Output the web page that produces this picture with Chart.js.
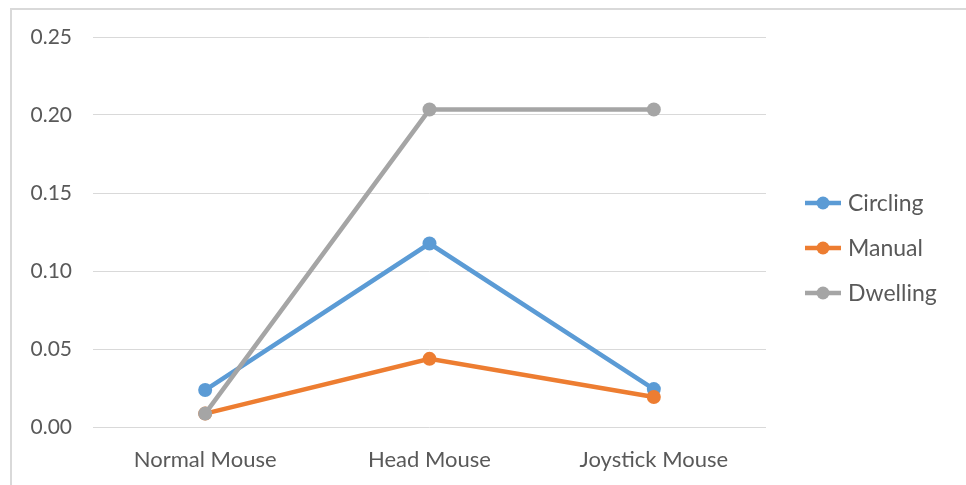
<!DOCTYPE html>
<html>
<head>
<meta charset="utf-8">
<script src="https://cdn.jsdelivr.net/npm/chart.js@4.4.1/dist/chart.umd.min.js"></script>
<style>
    html, body { margin: 0; padding: 0; background: #fff; }
    #wrap { position: relative; width: 966px; height: 485px; overflow: hidden; }
    #frame { position: absolute; left: 10px; top: 8px; width: 1000px; height: 600px;
             border-left: 2px solid #d9d9d9; border-top: 2px solid #d9d9d9; }
    canvas { position: absolute; left: 0; top: 0; }
</style>
</head>
<body>
<div id="wrap">
    <div id="frame"></div>
    <canvas id="chart" width="966" height="485"></canvas>
</div>
<script>
    const categories = ['Normal Mouse', 'Head Mouse', 'Joystick Mouse'];
    const circling = [0.0237, 0.1176, 0.0243];
    const manual = [0.0086, 0.0437, 0.0192];
    const dwelling = [0.0086, 0.2035, 0.2035];
    const yTicks = [0, 0.05, 0.10, 0.15, 0.20, 0.25];

    const textColor = '#595959';
    const fontFamily = 'Lato, "Open Sans", sans-serif';

    function series(label, data, color, order) {
        return {
            label: label,
            data: data,
            borderColor: color,
            backgroundColor: color,
            borderWidth: 4.5,
            pointRadius: 7,
            pointHoverRadius: 7,
            pointBorderWidth: 0,
            tension: 0,
            order: order
        };
    }

    // legend like the Office one: short line with a dot, on the right
    const sideLegend = {
        id: 'sideLegend',
        afterDraw(chart) {
            const ctx = chart.ctx;
            ctx.save();
            ctx.font = '23px ' + fontFamily;
            ctx.textBaseline = 'middle';
            ctx.textAlign = 'left';
            chart.data.datasets.forEach((ds, i) => {
                const y = 203 + i * 45;
                ctx.strokeStyle = ds.borderColor;
                ctx.lineWidth = 4.5;
                ctx.beginPath();
                ctx.moveTo(805, y);
                ctx.lineTo(841, y);
                ctx.stroke();
                ctx.fillStyle = ds.borderColor;
                ctx.beginPath();
                ctx.arc(823, y, 6.5, 0, Math.PI * 2);
                ctx.fill();
                ctx.fillStyle = textColor;
                ctx.fillText(ds.label, 848, y + 1);
            });
            ctx.restore();
        }
    };

    new Chart(document.getElementById('chart'), {
        type: 'line',
        data: {
            labels: categories,
            datasets: [
                series('Circling', circling, '#5B9BD5', 2),
                series('Manual', manual, '#ED7D31', 1),
                series('Dwelling', dwelling, '#A5A5A5', 0)
            ]
        },
        options: {
            responsive: false,
            animation: false,
            layout: { padding: { top: 37, right: 200, left: 0, bottom: 0 } },
            plugins: {
                legend: { display: false },
                tooltip: { enabled: false }
            },
            scales: {
                x: {
                    offset: true,
                    grid: { display: false, drawTicks: false },
                    border: { display: false },
                    ticks: { color: textColor, font: { family: fontFamily, size: 22 }, padding: 20 },
                    afterFit: (scale) => { scale.height = 58; }
                },
                y: {
                    min: 0,
                    max: 0.25,
                    afterBuildTicks: (scale) => { scale.ticks = yTicks.map(v => ({ value: v })); },
                    grid: { color: '#d9d9d9', lineWidth: 1, drawTicks: false },
                    border: { display: false },
                    ticks: {
                        color: textColor,
                        font: { family: fontFamily, size: 21 },
                        padding: 21,
                        callback: (v) => Number(v).toFixed(2)
                    },
                    afterFit: (scale) => { scale.width = 93; }
                }
            }
        },
        plugins: [sideLegend]
    });
</script>
</body>
</html>
